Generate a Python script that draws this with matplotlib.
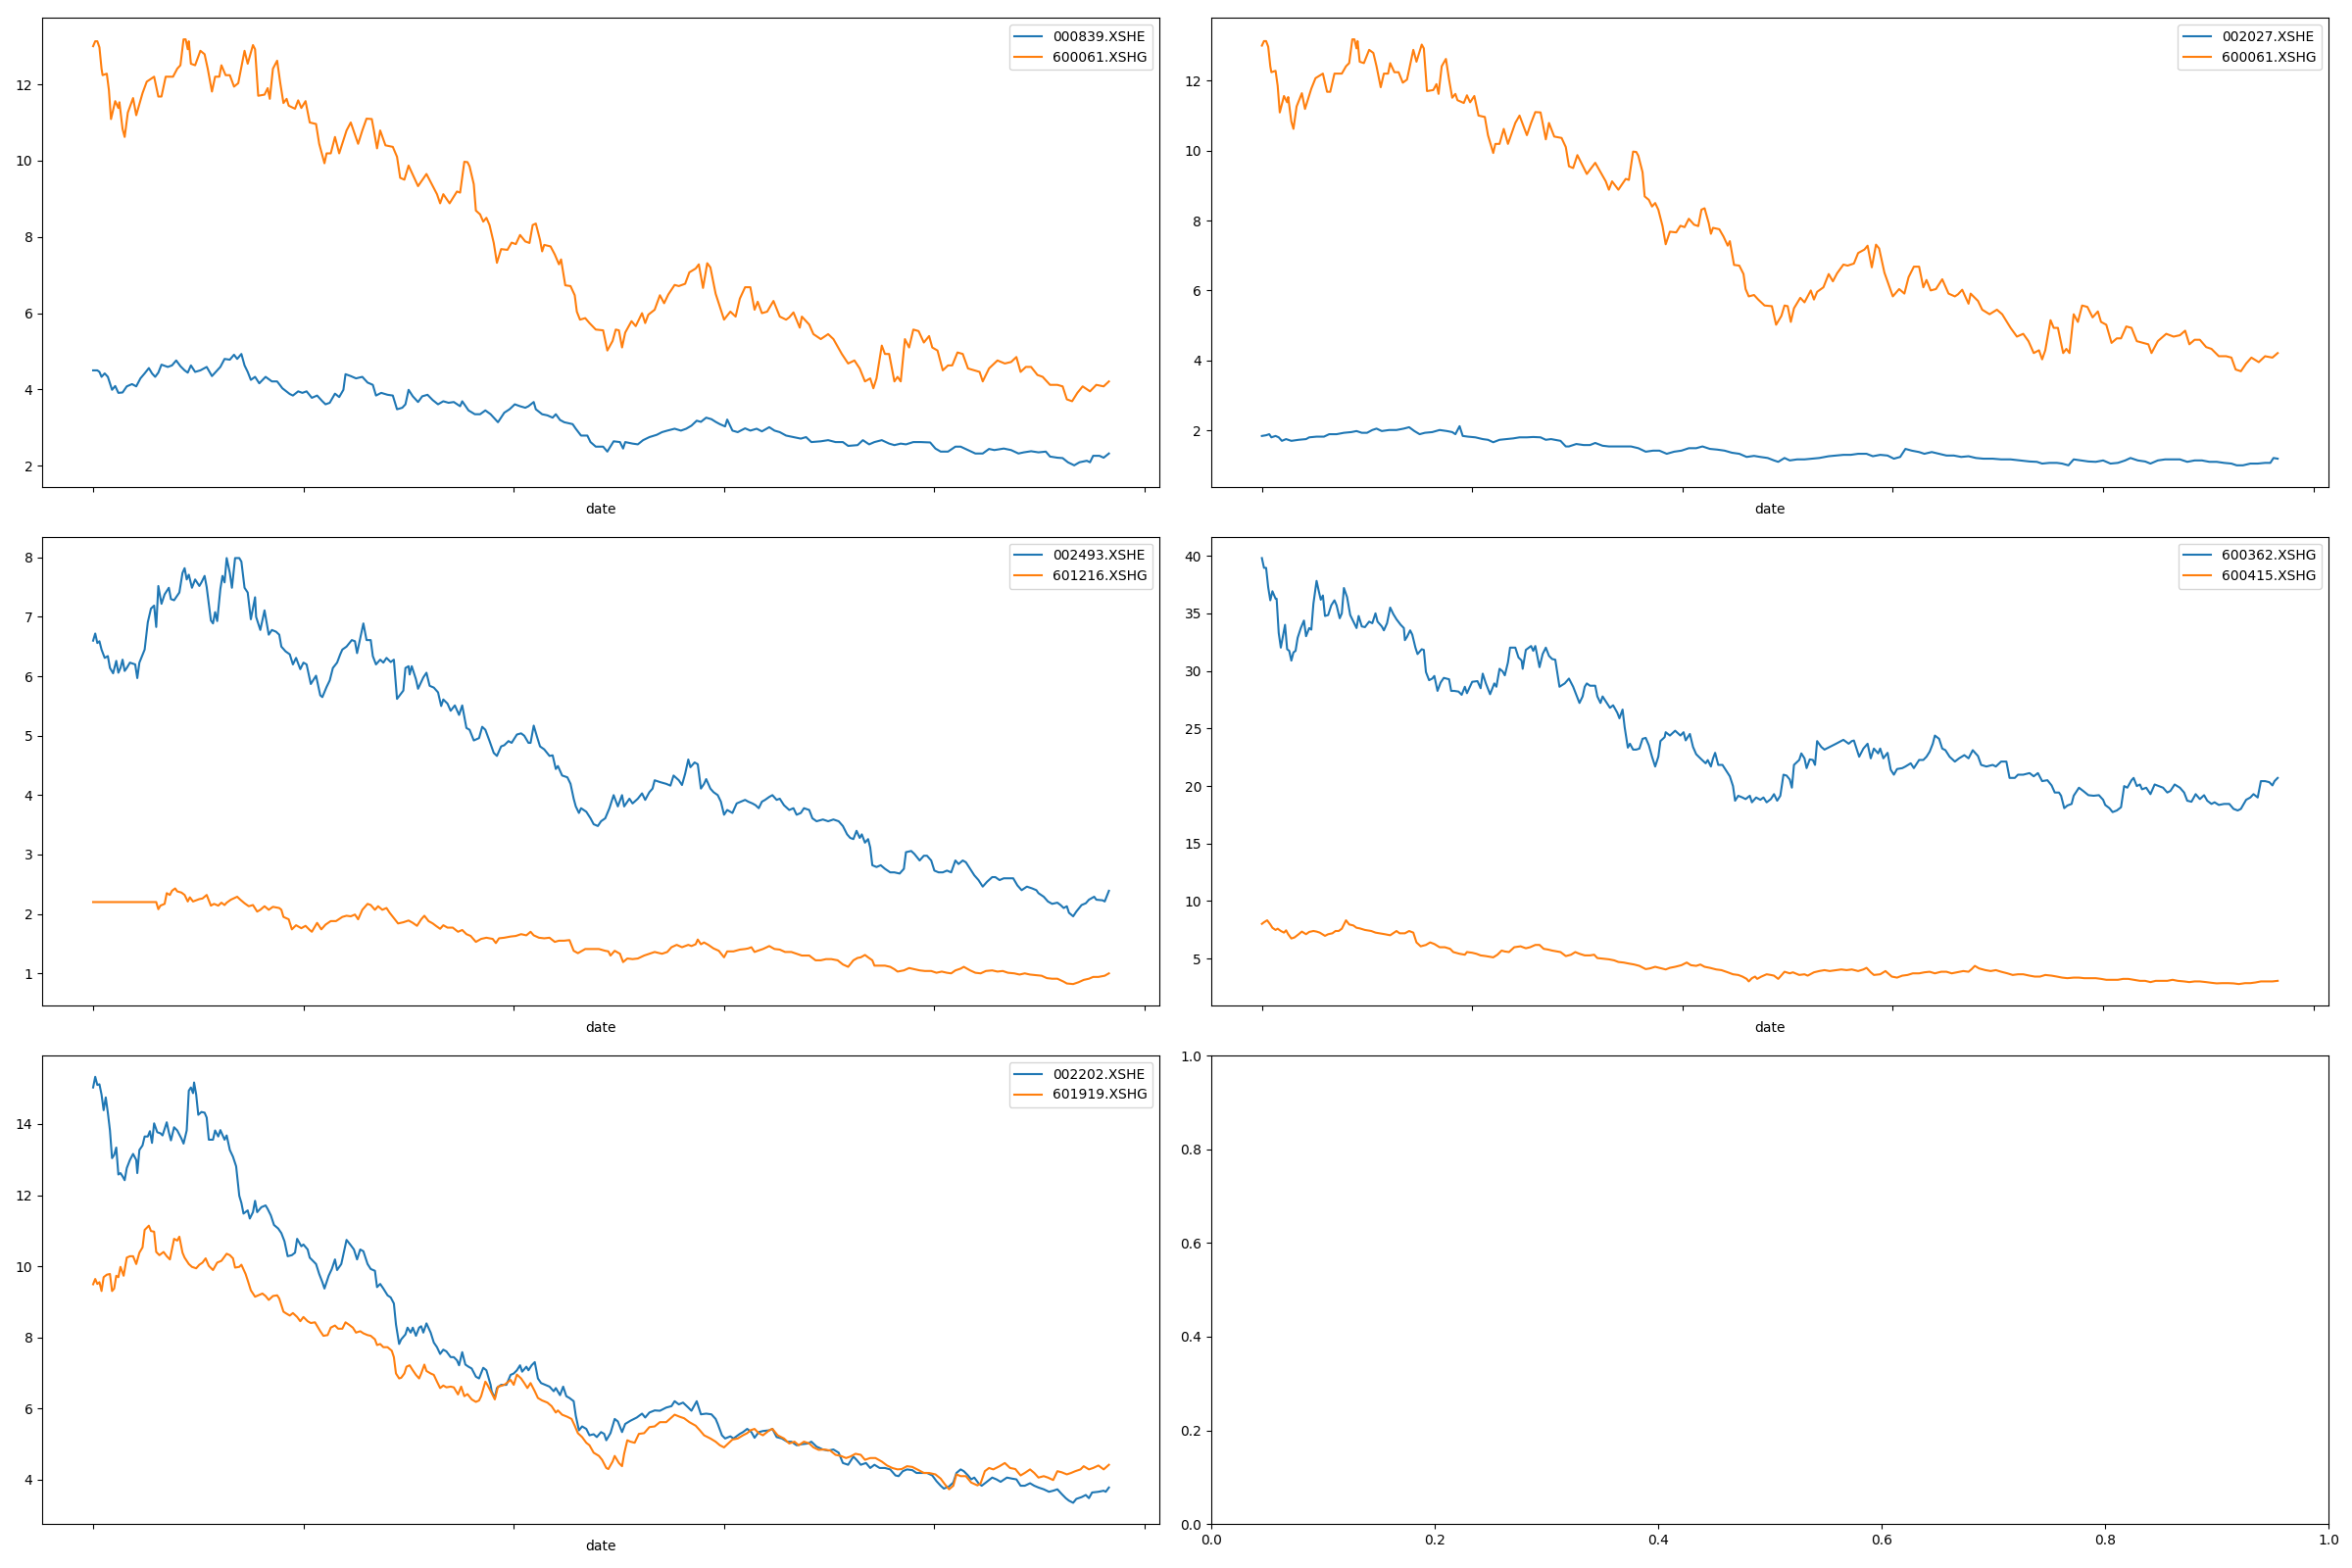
import matplotlib
matplotlib.use("Agg")
import matplotlib.pyplot as plt

# closing prices as (trading-day index, price)
p_600061 = [
    (0, 13.0), (2, 13.13), (4, 13.13), (6, 12.97), (8, 12.41), (9, 12.24), (13, 12.28), (15, 11.85),
    (17, 11.09), (21, 11.56), (24, 11.38), (25, 11.53), (28, 10.83), (30, 10.62), (33, 11.26), (38, 11.64),
    (41, 11.19), (47, 11.77), (51, 12.07), (58, 12.2), (62, 11.68), (65, 11.68), (69, 12.2), (76, 12.2),
    (80, 12.41), (83, 12.5), (86, 13.18), (88, 13.18), (90, 12.92), (91, 13.13), (93, 12.54), (97, 12.5),
    (102, 12.88), (106, 12.79), (109, 12.41), (113, 11.81), (116, 12.2), (120, 12.2), (122, 12.5), (126, 12.24),
    (130, 12.24), (134, 11.94), (138, 12.03), (144, 12.88), (147, 12.54), (152, 13.03), (154, 12.92), (157, 11.7),
    (163, 11.73), (166, 11.9), (168, 11.62), (171, 12.41), (175, 12.62), (178, 12.03), (181, 11.51), (184, 11.62),
    (186, 11.44), (192, 11.36), (195, 11.58), (198, 11.38), (202, 11.56), (206, 11.0), (212, 10.96), (215, 10.44),
    (220, 9.93), (222, 10.19), (226, 10.19), (230, 10.62), (234, 10.19), (241, 10.79), (245, 11.0), (252, 10.44),
    (256, 10.79), (260, 11.1), (265, 11.09), (267, 10.79), (270, 10.32), (273, 10.79), (278, 10.4), (285, 10.36),
    (289, 10.1), (292, 9.55), (296, 9.5), (300, 9.87), (304, 9.63), (309, 9.33), (317, 9.65), (323, 9.33),
    (327, 9.12), (330, 8.88), (333, 9.12), (339, 8.88), (346, 9.19), (349, 9.16), (353, 9.97), (356, 9.96),
    (358, 9.85), (362, 9.38), (364, 8.69), (368, 8.59), (371, 8.4), (374, 8.5), (377, 8.31), (381, 7.84),
    (384, 7.32), (388, 7.68), (394, 7.66), (398, 7.85), (402, 7.81), (406, 8.05), (411, 7.88), (415, 7.84),
    (418, 8.31), (421, 8.35), (425, 7.92), (427, 7.62), (429, 7.79), (435, 7.75), (439, 7.54), (443, 7.28),
    (445, 7.41), (449, 6.73), (454, 6.71), (458, 6.47), (460, 6.04), (463, 5.83), (468, 5.87), (472, 5.74),
    (478, 5.57), (485, 5.55), (489, 5.02), (494, 5.27), (497, 5.57), (500, 5.55), (503, 5.1), (506, 5.49),
    (512, 5.79), (516, 5.66), (522, 6.0), (525, 5.74), (528, 5.96), (534, 6.09), (539, 6.47), (543, 6.26),
    (547, 6.49), (553, 6.74), (557, 6.71), (563, 6.77), (567, 7.07), (573, 7.17), (576, 7.28), (580, 6.66),
    (584, 7.31), (587, 7.2), (592, 6.51), (600, 5.83), (606, 6.04), (611, 5.91), (615, 6.38), (620, 6.68),
    (625, 6.68), (629, 6.09), (632, 6.3), (636, 6.0), (641, 6.04), (647, 6.32), (653, 5.91), (659, 5.83),
    (662, 5.89), (666, 6.02), (672, 5.62), (674, 5.91), (681, 5.7), (685, 5.45), (692, 5.32), (699, 5.45),
    (704, 5.32), (712, 4.93), (718, 4.68), (724, 4.76), (729, 4.55), (734, 4.21), (739, 4.29), (742, 4.03),
    (745, 4.29), (750, 5.15), (753, 4.93), (757, 4.93), (762, 4.21), (765, 4.33), (768, 4.21), (772, 5.32),
    (776, 5.1), (780, 5.57), (785, 5.53), (790, 5.23), (795, 5.4), (798, 5.1), (803, 5.02), (808, 4.5),
    (813, 4.63), (817, 4.63), (822, 4.97), (827, 4.93), (832, 4.55), (838, 4.5), (843, 4.46), (846, 4.21),
    (852, 4.55), (857, 4.68), (860, 4.76), (867, 4.68), (873, 4.72), (878, 4.85), (882, 4.46), (887, 4.59),
    (892, 4.59), (898, 4.38), (903, 4.33), (910, 4.12), (917, 4.12), (922, 4.08), (926, 3.74), (931, 3.69),
    (936, 3.91), (941, 4.08), (948, 3.95), (954, 4.12), (961, 4.08), (966, 4.21),
]

p_000839 = [
    (0, 4.5), (4, 4.5), (6, 4.46), (8, 4.33), (11, 4.42), (14, 4.33), (18, 3.99), (21, 4.09),
    (24, 3.91), (28, 3.92), (32, 4.08), (37, 4.14), (41, 4.08), (45, 4.29), (49, 4.42), (53, 4.56),
    (56, 4.42), (59, 4.33), (62, 4.44), (65, 4.65), (71, 4.59), (75, 4.63), (79, 4.76), (83, 4.61),
    (87, 4.5), (90, 4.44), (93, 4.63), (97, 4.46), (102, 4.5), (108, 4.59), (113, 4.35), (118, 4.5),
    (121, 4.59), (125, 4.8), (130, 4.78), (134, 4.91), (137, 4.8), (141, 4.93), (144, 4.63), (147, 4.46),
    (150, 4.25), (154, 4.33), (158, 4.16), (164, 4.33), (170, 4.21), (175, 4.21), (180, 4.03), (187, 3.88),
    (190, 3.84), (195, 3.95), (199, 3.91), (203, 3.95), (208, 3.78), (213, 3.84), (218, 3.69), (221, 3.61),
    (225, 3.65), (230, 3.89), (234, 3.8), (238, 3.99), (240, 4.4), (245, 4.35), (250, 4.29), (256, 4.33),
    (261, 4.18), (266, 4.12), (269, 3.84), (274, 3.91), (280, 3.86), (285, 3.84), (289, 3.48), (294, 3.52),
    (297, 3.61), (300, 3.99), (304, 3.82), (309, 3.67), (313, 3.82), (318, 3.86), (323, 3.72), (328, 3.61),
    (333, 3.69), (338, 3.65), (343, 3.67), (349, 3.56), (351, 3.69), (357, 3.45), (363, 3.35), (368, 3.35),
    (373, 3.45), (378, 3.35), (385, 3.14), (391, 3.39), (396, 3.48), (401, 3.61), (406, 3.56), (411, 3.52),
    (414, 3.56), (419, 3.67), (421, 3.48), (427, 3.35), (432, 3.32), (437, 3.26), (440, 3.35), (444, 3.2),
    (448, 3.14), (456, 3.09), (459, 2.97), (464, 2.79), (470, 2.79), (473, 2.62), (478, 2.5), (485, 2.5),
    (489, 2.37), (495, 2.64), (501, 2.62), (504, 2.45), (506, 2.62), (513, 2.58), (518, 2.56), (523, 2.67),
    (529, 2.75), (536, 2.81), (541, 2.88), (546, 2.92), (553, 2.97), (559, 2.92), (564, 2.97), (569, 3.05),
    (574, 3.18), (578, 3.15), (583, 3.26), (588, 3.22), (592, 3.15), (596, 3.09), (601, 3.03), (603, 3.21),
    (608, 2.92), (613, 2.88), (620, 2.98), (625, 2.92), (631, 2.97), (636, 2.9), (643, 3.01), (648, 2.92),
    (653, 2.88), (659, 2.79), (666, 2.75), (673, 2.71), (678, 2.75), (683, 2.62), (692, 2.64), (699, 2.67),
    (706, 2.62), (713, 2.62), (718, 2.52), (727, 2.54), (732, 2.67), (738, 2.56), (743, 2.62), (750, 2.67),
    (757, 2.58), (762, 2.54), (768, 2.58), (773, 2.56), (780, 2.62), (787, 2.62), (796, 2.61), (801, 2.45),
    (806, 2.37), (813, 2.37), (820, 2.5), (825, 2.5), (832, 2.41), (839, 2.32), (846, 2.32), (852, 2.44),
    (857, 2.41), (866, 2.45), (873, 2.41), (880, 2.32), (885, 2.35), (892, 2.38), (899, 2.35), (906, 2.37),
    (910, 2.24), (917, 2.21), (922, 2.2), (927, 2.09), (933, 2.01), (938, 2.09), (945, 2.13), (948, 2.09),
    (951, 2.26), (957, 2.26), (961, 2.21), (966, 2.32),
]

p_002027 = [
    (0, 1.84), (4, 1.86), (7, 1.89), (9, 1.8), (13, 1.84), (16, 1.8), (19, 1.7), (23, 1.75),
    (28, 1.7), (35, 1.73), (42, 1.75), (45, 1.8), (52, 1.82), (59, 1.82), (64, 1.89), (71, 1.89),
    (78, 1.93), (85, 1.95), (90, 1.98), (95, 1.93), (100, 1.93), (105, 2.01), (109, 2.05), (114, 1.98),
    (121, 2.01), (128, 2.01), (135, 2.05), (140, 2.09), (145, 1.98), (150, 1.89), (155, 1.93), (162, 1.95),
    (169, 2.01), (176, 1.98), (181, 1.95), (184, 1.89), (188, 2.12), (191, 1.84), (196, 1.82), (203, 1.8),
    (210, 1.75), (215, 1.73), (220, 1.66), (226, 1.73), (233, 1.75), (239, 1.77), (245, 1.8), (252, 1.8),
    (258, 1.81), (265, 1.8), (270, 1.73), (275, 1.75), (284, 1.7), (289, 1.54), (292, 1.54), (299, 1.61),
    (306, 1.58), (312, 1.58), (317, 1.64), (324, 1.56), (330, 1.54), (337, 1.54), (344, 1.54), (351, 1.54),
    (358, 1.49), (365, 1.39), (372, 1.42), (378, 1.42), (385, 1.33), (392, 1.39), (399, 1.42), (406, 1.49),
    (413, 1.49), (419, 1.54), (426, 1.47), (433, 1.45), (440, 1.42), (447, 1.36), (454, 1.33), (461, 1.24),
    (468, 1.27), (474, 1.24), (481, 1.21), (487, 1.14), (491, 1.1), (497, 1.21), (502, 1.14), (509, 1.17),
    (516, 1.17), (523, 1.19), (530, 1.21), (539, 1.26), (546, 1.28), (553, 1.3), (560, 1.3), (567, 1.33),
    (575, 1.33), (581, 1.26), (588, 1.3), (595, 1.28), (601, 1.19), (607, 1.24), (612, 1.47), (618, 1.42),
    (625, 1.38), (630, 1.33), (637, 1.38), (644, 1.33), (651, 1.28), (658, 1.28), (665, 1.24), (672, 1.26),
    (679, 1.21), (686, 1.19), (695, 1.19), (703, 1.17), (712, 1.17), (721, 1.14), (730, 1.11), (737, 1.1),
    (742, 1.05), (749, 1.07), (756, 1.07), (761, 1.05), (767, 1.0), (772, 1.17), (779, 1.14), (786, 1.11),
    (793, 1.1), (800, 1.14), (807, 1.05), (814, 1.07), (821, 1.14), (826, 1.21), (833, 1.14), (840, 1.11),
    (845, 1.05), (852, 1.14), (859, 1.17), (866, 1.17), (873, 1.17), (880, 1.1), (887, 1.14), (894, 1.14),
    (901, 1.1), (908, 1.1), (915, 1.07), (922, 1.05), (927, 1.0), (933, 1.0), (940, 1.05), (947, 1.05),
    (954, 1.07), (959, 1.07), (962, 1.21), (966, 1.19),
]

p_002493 = [
    (0, 6.6), (2, 6.72), (4, 6.56), (6, 6.59), (8, 6.45), (11, 6.31), (14, 6.34), (16, 6.14),
    (19, 6.05), (22, 6.26), (24, 6.06), (26, 6.14), (28, 6.28), (30, 6.09), (32, 6.14), (35, 6.23),
    (40, 6.2), (42, 5.97), (44, 6.23), (49, 6.45), (52, 6.91), (55, 7.14), (58, 7.19), (60, 6.83),
    (62, 7.52), (65, 7.22), (68, 7.38), (72, 7.49), (74, 7.3), (77, 7.28), (82, 7.41), (85, 7.74),
    (87, 7.82), (89, 7.63), (91, 7.71), (94, 7.49), (97, 7.63), (101, 7.52), (103, 7.58), (106, 7.69),
    (108, 7.5), (112, 6.94), (114, 6.89), (116, 7.08), (118, 6.93), (121, 7.47), (123, 7.69), (125, 7.58),
    (127, 7.99), (130, 7.74), (132, 7.49), (135, 7.99), (139, 7.99), (141, 7.93), (144, 7.49), (147, 7.41),
    (150, 6.96), (154, 7.33), (155, 7.0), (159, 6.78), (163, 7.11), (167, 6.7), (170, 6.78), (174, 6.75),
    (177, 6.7), (179, 6.5), (183, 6.42), (187, 6.37), (190, 6.2), (193, 6.31), (197, 6.12), (200, 6.23),
    (203, 6.2), (207, 5.87), (212, 6.01), (216, 5.68), (218, 5.65), (222, 5.82), (225, 5.93), (228, 6.14),
    (232, 6.23), (235, 6.37), (237, 6.45), (241, 6.5), (246, 6.61), (249, 6.59), (251, 6.39), (254, 6.64),
    (257, 6.89), (260, 6.61), (264, 6.61), (266, 6.34), (269, 6.2), (273, 6.28), (276, 6.23), (279, 6.31),
    (283, 6.24), (286, 6.28), (289, 5.62), (295, 5.76), (297, 6.14), (300, 6.17), (301, 6.03), (303, 6.17),
    (307, 5.95), (309, 5.79), (314, 5.98), (317, 6.06), (320, 5.84), (324, 5.81), (328, 5.73), (331, 5.5),
    (333, 5.61), (337, 5.54), (340, 5.42), (344, 5.51), (348, 5.35), (351, 5.51), (355, 5.13), (358, 5.1),
    (362, 4.92), (367, 4.96), (370, 5.15), (373, 5.1), (377, 4.91), (381, 4.71), (384, 4.66), (388, 4.82),
    (391, 4.84), (395, 4.91), (398, 4.88), (403, 5.02), (407, 5.04), (410, 5.0), (414, 4.88), (416, 4.88),
    (419, 5.17), (422, 4.99), (425, 4.82), (429, 4.77), (434, 4.66), (437, 4.67), (440, 4.44), (442, 4.49),
    (446, 4.33), (451, 4.3), (454, 4.19), (457, 3.94), (459, 3.81), (462, 3.7), (464, 3.78), (469, 3.72),
    (473, 3.61), (476, 3.51), (480, 3.48), (483, 3.56), (487, 3.61), (491, 3.78), (495, 4.0), (499, 3.81),
    (503, 4.0), (505, 3.81), (510, 3.94), (513, 3.86), (518, 3.94), (522, 4.03), (525, 3.92), (529, 4.05),
    (532, 4.11), (534, 4.25), (539, 4.22), (545, 4.19), (549, 4.16), (552, 4.33), (557, 4.25), (560, 4.17),
    (563, 4.36), (566, 4.6), (568, 4.47), (572, 4.55), (575, 4.52), (578, 4.11), (581, 4.19), (583, 4.27),
    (587, 4.11), (590, 4.05), (594, 4.0), (597, 3.89), (600, 3.67), (603, 3.75), (608, 3.7), (612, 3.86),
    (616, 3.89), (620, 3.92), (623, 3.89), (627, 3.86), (630, 3.83), (633, 3.78), (636, 3.89), (639, 3.92),
    (643, 3.97), (646, 4.0), (650, 3.92), (653, 3.94), (657, 3.83), (662, 3.75), (666, 3.78), (669, 3.67),
    (673, 3.7), (676, 3.78), (681, 3.75), (684, 3.61), (688, 3.56), (694, 3.59), (699, 3.56), (704, 3.59),
    (709, 3.56), (713, 3.48), (717, 3.34), (720, 3.28), (723, 3.26), (726, 3.4), (729, 3.28), (731, 3.34),
    (734, 3.2), (737, 3.26), (739, 3.12), (741, 2.82), (745, 2.79), (749, 2.82), (753, 2.76), (758, 2.7),
    (762, 2.7), (767, 2.68), (771, 2.76), (773, 3.04), (778, 3.06), (781, 3.01), (786, 2.9), (790, 2.98),
    (793, 2.98), (797, 2.9), (800, 2.73), (804, 2.7), (808, 2.7), (812, 2.73), (816, 2.7), (820, 2.9),
    (823, 2.84), (827, 2.9), (830, 2.87), (834, 2.76), (838, 2.65), (842, 2.57), (846, 2.46), (850, 2.54),
    (855, 2.62), (858, 2.62), (862, 2.57), (866, 2.6), (870, 2.6), (875, 2.6), (879, 2.48), (883, 2.4),
    (888, 2.46), (893, 2.43), (897, 2.4), (899, 2.35), (904, 2.29), (908, 2.21), (912, 2.17), (917, 2.19),
    (920, 2.15), (923, 2.1), (926, 2.13), (928, 2.02), (932, 1.96), (935, 2.04), (940, 2.15), (944, 2.18),
    (947, 2.24), (952, 2.29), (954, 2.24), (960, 2.23), (962, 2.21), (966, 2.39),
]

p_601216 = [
    (0, 2.2), (60, 2.2), (62, 2.08), (64, 2.14), (68, 2.17), (70, 2.35), (73, 2.32), (75, 2.39),
    (78, 2.43), (80, 2.38), (84, 2.36), (87, 2.32), (90, 2.21), (92, 2.28), (95, 2.21), (101, 2.25),
    (104, 2.26), (108, 2.32), (112, 2.14), (115, 2.17), (119, 2.14), (122, 2.19), (125, 2.15), (127, 2.19),
    (131, 2.24), (137, 2.29), (140, 2.24), (144, 2.18), (148, 2.13), (152, 2.15), (156, 2.04), (159, 2.07),
    (163, 2.13), (167, 2.07), (171, 2.12), (177, 2.1), (179, 2.07), (181, 1.95), (186, 1.91), (189, 1.74),
    (193, 1.81), (198, 1.76), (202, 1.8), (206, 1.73), (208, 1.7), (213, 1.85), (217, 1.74), (221, 1.82),
    (226, 1.88), (231, 1.88), (237, 1.95), (241, 1.97), (245, 1.96), (249, 1.99), (252, 1.91), (256, 2.07),
    (261, 2.17), (264, 2.15), (268, 2.07), (271, 2.13), (275, 2.07), (279, 2.1), (282, 2.02), (286, 1.93),
    (290, 1.84), (295, 1.86), (300, 1.89), (304, 1.85), (308, 1.8), (312, 1.91), (315, 1.97), (319, 1.88),
    (323, 1.84), (326, 1.8), (330, 1.75), (333, 1.81), (337, 1.77), (342, 1.77), (347, 1.7), (351, 1.73),
    (355, 1.66), (359, 1.63), (364, 1.53), (369, 1.58), (374, 1.6), (380, 1.58), (383, 1.51), (386, 1.59),
    (391, 1.6), (397, 1.62), (402, 1.63), (407, 1.66), (412, 1.64), (416, 1.7), (419, 1.64), (424, 1.6),
    (429, 1.59), (434, 1.6), (439, 1.53), (443, 1.55), (448, 1.55), (453, 1.56), (457, 1.38), (461, 1.34),
    (464, 1.37), (468, 1.41), (474, 1.41), (481, 1.41), (487, 1.38), (490, 1.37), (492, 1.3), (496, 1.38),
    (501, 1.33), (504, 1.19), (508, 1.25), (513, 1.24), (518, 1.25), (524, 1.3), (529, 1.33), (534, 1.36),
    (541, 1.33), (546, 1.36), (550, 1.44), (555, 1.48), (560, 1.44), (566, 1.48), (569, 1.46), (573, 1.49),
    (575, 1.57), (578, 1.49), (581, 1.52), (585, 1.48), (590, 1.42), (595, 1.38), (600, 1.27), (603, 1.37),
    (609, 1.37), (615, 1.4), (620, 1.41), (623, 1.42), (626, 1.44), (629, 1.36), (632, 1.38), (637, 1.41),
    (643, 1.46), (648, 1.41), (653, 1.4), (658, 1.36), (664, 1.36), (669, 1.33), (674, 1.3), (681, 1.3),
    (687, 1.22), (692, 1.22), (697, 1.24), (702, 1.24), (708, 1.22), (713, 1.15), (718, 1.11), (723, 1.22),
    (727, 1.26), (730, 1.27), (734, 1.31), (737, 1.27), (741, 1.22), (743, 1.13), (748, 1.13), (753, 1.13),
    (758, 1.11), (762, 1.07), (765, 1.03), (771, 1.05), (776, 1.09), (781, 1.07), (786, 1.05), (791, 1.04),
    (797, 1.04), (802, 1.01), (807, 1.03), (812, 1.01), (816, 1.0), (820, 1.05), (825, 1.08), (828, 1.11),
    (834, 1.05), (839, 1.01), (844, 1.0), (849, 1.04), (855, 1.05), (860, 1.03), (865, 1.04), (870, 1.01),
    (876, 1.0), (881, 0.98), (886, 1.0), (891, 0.98), (897, 0.97), (902, 0.96), (907, 0.92), (912, 0.91),
    (917, 0.91), (923, 0.86), (926, 0.83), (932, 0.82), (937, 0.85), (942, 0.89), (947, 0.91), (951, 0.94),
    (956, 0.94), (962, 0.96), (966, 1.0),
]

p_600362 = [
    (0, 39.8), (2, 38.95), (4, 38.95), (6, 37.26), (8, 36.13), (10, 36.92), (13, 36.27), (14, 36.27),
    (16, 33.29), (18, 32.02), (20, 33.01), (22, 34.0), (24, 31.88), (26, 31.74), (28, 30.89), (30, 31.6),
    (32, 31.74), (34, 32.87), (37, 33.72), (40, 34.37), (42, 33.01), (45, 33.72), (47, 33.58), (49, 35.84),
    (52, 37.82), (54, 36.97), (56, 36.18), (58, 36.55), (60, 34.77), (63, 34.85), (66, 35.7), (69, 36.13),
    (71, 35.7), (74, 34.57), (76, 35.0), (78, 37.2), (81, 36.41), (84, 34.85), (87, 34.28), (90, 33.72),
    (92, 34.77), (95, 33.86), (98, 33.8), (102, 34.28), (105, 34.14), (108, 35.0), (110, 34.28), (114, 33.86),
    (116, 33.52), (119, 34.14), (122, 35.5), (125, 34.93), (128, 34.48), (132, 34.0), (135, 33.72), (136, 32.67),
    (138, 32.95), (141, 33.52), (143, 33.15), (146, 32.02), (148, 31.46), (152, 31.88), (154, 31.82), (156, 29.9),
    (159, 29.19), (162, 29.33), (164, 29.56), (167, 28.26), (170, 28.99), (173, 29.39), (178, 29.27), (180, 28.26),
    (183, 28.26), (187, 28.2), (190, 27.92), (193, 28.62), (195, 28.06), (200, 29.05), (205, 29.11), (208, 28.49),
    (210, 29.76), (213, 28.91), (217, 27.97), (221, 28.91), (223, 28.62), (226, 30.18), (229, 29.95), (231, 29.61),
    (234, 30.74), (236, 32.02), (241, 32.02), (244, 31.17), (247, 30.89), (248, 30.18), (251, 31.82), (256, 32.16),
    (258, 31.74), (260, 32.16), (264, 30.32), (267, 31.46), (270, 32.02), (273, 31.31), (276, 31.03), (279, 30.97),
    (283, 28.62), (288, 28.91), (292, 29.33), (296, 28.62), (299, 27.92), (302, 27.21), (305, 27.78), (307, 28.62),
    (309, 28.91), (312, 28.71), (317, 28.71), (319, 27.78), (322, 27.21), (324, 27.78), (328, 27.21), (331, 26.79),
    (334, 27.01), (338, 26.36), (340, 25.88), (343, 26.64), (345, 25.09), (348, 23.33), (350, 23.67), (353, 23.16),
    (356, 23.16), (359, 23.25), (362, 24.1), (365, 24.18), (368, 23.53), (371, 22.54), (374, 21.69), (377, 22.54),
    (379, 23.9), (383, 24.24), (384, 24.67), (388, 24.38), (393, 24.8), (398, 24.38), (401, 24.67), (403, 23.96),
    (407, 24.52), (410, 23.39), (413, 22.76), (418, 22.31), (422, 21.97), (424, 22.25), (427, 21.69), (429, 22.39),
    (431, 22.88), (434, 21.83), (438, 21.83), (442, 21.27), (445, 20.84), (448, 19.99), (450, 18.72), (453, 19.15),
    (457, 19.0), (460, 18.86), (464, 19.15), (466, 18.58), (470, 19.0), (474, 18.8), (477, 19.0), (480, 18.58),
    (484, 18.86), (487, 19.29), (490, 18.72), (493, 19.15), (496, 20.98), (499, 20.9), (502, 20.56), (504, 19.85),
    (506, 21.83), (511, 22.26), (513, 22.83), (516, 22.4), (518, 21.55), (521, 22.31), (524, 22.26), (526, 21.83),
    (528, 23.9), (532, 23.39), (535, 23.16), (540, 23.39), (546, 23.67), (553, 24.01), (558, 23.67), (561, 23.9),
    (563, 23.95), (568, 22.54), (572, 23.25), (576, 23.67), (579, 22.4), (582, 23.25), (586, 22.83), (588, 23.25),
    (591, 22.4), (595, 22.88), (598, 21.41), (601, 20.98), (604, 21.47), (609, 21.55), (612, 21.69), (617, 21.97),
    (620, 21.55), (625, 22.26), (629, 22.26), (632, 22.54), (635, 22.97), (638, 23.67), (640, 24.38), (644, 24.1),
    (647, 23.25), (650, 23.11), (654, 22.54), (659, 22.12), (663, 22.4), (668, 22.68), (672, 22.4), (676, 23.11),
    (681, 22.6), (684, 21.83), (689, 21.69), (695, 21.83), (698, 21.69), (703, 22.12), (708, 22.12), (711, 20.7),
    (716, 20.7), (719, 20.98), (724, 20.98), (730, 21.12), (734, 20.84), (738, 21.12), (742, 20.42), (747, 20.5),
    (751, 20.05), (754, 19.43), (758, 19.43), (760, 19.15), (763, 18.07), (766, 18.3), (770, 18.44), (772, 19.15),
    (777, 19.85), (781, 19.57), (786, 19.2), (791, 19.15), (796, 19.2), (800, 18.8), (802, 18.35), (806, 18.07),
    (809, 17.73), (813, 17.87), (817, 18.15), (820, 19.99), (823, 19.85), (827, 20.5), (829, 20.7), (832, 19.99),
    (835, 20.13), (837, 19.71), (841, 19.85), (845, 19.29), (849, 20.13), (853, 19.99), (857, 19.85), (861, 19.43),
    (864, 19.57), (868, 20.13), (873, 19.85), (877, 19.43), (880, 18.72), (884, 18.63), (888, 19.29), (892, 18.86),
    (896, 19.2), (899, 18.72), (903, 18.44), (906, 18.58), (910, 18.35), (915, 18.44), (920, 18.44), (924, 18.01),
    (928, 17.87), (931, 18.01), (936, 18.8), (940, 19.0), (943, 19.29), (947, 19.0), (950, 20.42), (954, 20.42),
    (958, 20.33), (961, 20.05), (963, 20.42), (966, 20.7),
]

p_600415 = [
    (0, 8.02), (2, 8.16), (5, 8.33), (8, 7.97), (10, 7.68), (13, 7.49), (15, 7.6), (18, 7.4),
    (21, 7.26), (23, 7.46), (25, 7.12), (28, 6.75), (31, 6.84), (35, 7.12), (38, 7.35), (42, 7.12),
    (45, 7.32), (49, 7.4), (52, 7.35), (55, 7.26), (60, 6.98), (63, 7.12), (67, 7.2), (70, 7.4),
    (73, 7.4), (76, 7.6), (80, 8.33), (83, 7.97), (87, 7.88), (90, 7.68), (93, 7.63), (98, 7.49),
    (104, 7.4), (108, 7.26), (112, 7.2), (117, 7.12), (122, 7.03), (128, 7.4), (131, 7.2), (136, 7.2),
    (140, 7.4), (144, 7.26), (147, 6.41), (151, 6.07), (156, 6.19), (160, 6.41), (164, 6.27), (169, 5.99),
    (174, 5.99), (179, 5.85), (182, 5.57), (188, 5.42), (193, 5.34), (195, 5.57), (200, 5.51), (204, 5.42),
    (208, 5.28), (213, 5.22), (220, 5.11), (224, 5.34), (228, 5.7), (231, 5.62), (235, 5.57), (240, 5.99),
    (246, 6.07), (251, 5.9), (255, 5.99), (260, 6.19), (264, 6.19), (268, 5.85), (272, 5.79), (276, 5.7),
    (281, 5.62), (284, 5.57), (289, 5.22), (294, 5.34), (298, 5.57), (302, 5.42), (307, 5.28), (312, 5.28),
    (316, 5.34), (319, 5.05), (324, 5.0), (330, 4.94), (335, 4.85), (339, 4.71), (344, 4.66), (349, 4.57),
    (354, 4.49), (359, 4.37), (365, 4.09), (369, 4.15), (374, 4.29), (378, 4.2), (384, 4.06), (388, 4.2),
    (393, 4.29), (399, 4.43), (404, 4.66), (408, 4.43), (413, 4.37), (417, 4.49), (421, 4.29), (426, 4.2),
    (432, 4.06), (437, 4.0), (443, 3.81), (448, 3.64), (453, 3.58), (457, 3.44), (461, 3.24), (463, 3.02),
    (466, 3.3), (469, 3.44), (471, 3.24), (475, 3.44), (480, 3.64), (484, 3.58), (487, 3.52), (491, 3.24),
    (493, 3.44), (497, 3.86), (502, 3.72), (505, 3.81), (511, 3.58), (516, 3.64), (519, 3.52), (525, 3.81),
    (530, 3.92), (535, 4.0), (540, 3.92), (546, 4.0), (551, 4.06), (556, 4.0), (561, 4.06), (567, 3.92),
    (572, 4.06), (575, 4.2), (579, 3.81), (582, 3.58), (588, 3.64), (593, 3.92), (599, 3.44), (604, 3.35),
    (609, 3.52), (614, 3.58), (619, 3.72), (625, 3.72), (630, 3.81), (635, 3.86), (640, 3.72), (646, 3.86),
    (651, 3.86), (656, 3.72), (661, 3.81), (667, 3.92), (672, 3.86), (675, 4.09), (678, 4.37), (682, 4.15),
    (688, 4.0), (693, 3.92), (698, 4.0), (703, 3.86), (709, 3.72), (714, 3.58), (719, 3.64), (724, 3.64),
    (730, 3.52), (735, 3.44), (740, 3.44), (745, 3.58), (751, 3.52), (756, 3.44), (761, 3.35), (766, 3.3),
    (772, 3.35), (777, 3.35), (782, 3.3), (787, 3.3), (793, 3.3), (798, 3.24), (803, 3.16), (808, 3.16),
    (814, 3.16), (819, 3.24), (824, 3.24), (829, 3.16), (835, 3.07), (840, 3.07), (845, 2.96), (850, 3.07),
    (856, 3.07), (861, 3.07), (866, 3.16), (871, 3.07), (877, 3.02), (882, 2.96), (887, 3.02), (892, 3.02),
    (898, 2.96), (903, 2.9), (908, 2.85), (913, 2.87), (919, 2.87), (924, 2.85), (929, 2.79), (935, 2.87),
    (940, 2.87), (945, 2.93), (950, 3.02), (956, 3.02), (961, 3.02), (966, 3.07),
]

p_002202 = [
    (0, 15.03), (2, 15.33), (4, 15.1), (6, 15.12), (8, 14.83), (10, 14.39), (12, 14.75), (14, 14.32),
    (16, 13.82), (18, 13.04), (20, 13.13), (22, 13.34), (24, 12.58), (26, 12.62), (28, 12.53), (30, 12.42),
    (32, 12.76), (35, 12.99), (38, 13.16), (41, 12.99), (42, 12.62), (44, 13.27), (47, 13.4), (49, 13.65),
    (52, 13.65), (54, 13.8), (56, 13.47), (58, 14.02), (61, 13.77), (64, 13.74), (66, 13.68), (70, 14.05),
    (72, 13.77), (74, 13.54), (77, 13.91), (80, 13.82), (84, 13.59), (86, 13.45), (89, 13.82), (91, 14.94),
    (93, 15.03), (95, 14.87), (96, 15.17), (98, 14.83), (100, 14.26), (103, 14.34), (106, 14.32), (108, 14.18),
    (110, 13.56), (114, 13.56), (116, 13.82), (119, 13.65), (121, 13.83), (125, 13.56), (127, 13.68), (130, 13.27),
    (133, 13.08), (136, 12.81), (139, 11.98), (141, 11.78), (143, 11.48), (147, 11.57), (149, 11.34), (152, 11.52),
    (154, 11.84), (156, 11.52), (160, 11.66), (164, 11.71), (166, 11.61), (169, 11.43), (172, 11.16), (176, 11.06),
    (179, 10.93), (182, 10.7), (185, 10.28), (189, 10.31), (192, 10.38), (194, 10.77), (198, 10.56), (200, 10.61),
    (204, 10.47), (206, 10.24), (209, 10.15), (212, 10.06), (215, 9.78), (218, 9.55), (220, 9.37), (224, 9.73),
    (227, 9.92), (230, 10.19), (232, 9.89), (236, 10.06), (238, 10.33), (241, 10.74), (245, 10.59), (248, 10.47),
    (251, 10.19), (254, 10.47), (257, 10.42), (261, 10.06), (264, 9.92), (268, 9.87), (270, 9.41), (273, 9.5),
    (276, 9.37), (280, 9.18), (283, 9.12), (286, 8.95), (288, 8.36), (291, 7.81), (293, 7.94), (297, 8.08),
    (299, 8.27), (302, 8.13), (304, 8.27), (307, 8.04), (310, 8.27), (312, 8.31), (314, 8.13), (317, 8.39),
    (321, 8.13), (324, 7.85), (327, 7.72), (330, 7.53), (333, 7.65), (336, 7.6), (340, 7.44), (343, 7.44),
    (346, 7.35), (348, 7.21), (351, 7.58), (354, 7.23), (357, 7.17), (360, 7.12), (364, 6.89), (367, 6.84),
    (371, 7.14), (374, 7.07), (378, 6.66), (379, 6.48), (382, 6.29), (384, 6.57), (388, 6.66), (393, 6.66),
    (397, 6.94), (400, 6.98), (403, 7.07), (406, 7.21), (408, 7.03), (412, 7.17), (414, 7.07), (417, 7.21),
    (420, 7.3), (423, 6.84), (426, 6.71), (430, 6.66), (434, 6.61), (438, 6.48), (440, 6.57), (444, 6.37),
    (447, 6.61), (450, 6.34), (453, 6.29), (457, 6.2), (459, 5.79), (462, 5.38), (465, 5.49), (469, 5.42),
    (472, 5.24), (476, 5.27), (479, 5.19), (483, 5.33), (486, 5.28), (488, 5.1), (492, 5.3), (496, 5.7),
    (499, 5.63), (503, 5.33), (506, 5.56), (511, 5.65), (517, 5.74), (522, 5.85), (525, 5.74), (529, 5.88),
    (534, 5.94), (539, 5.93), (545, 6.02), (550, 6.06), (553, 6.2), (557, 6.11), (561, 6.16), (566, 6.02),
    (569, 5.93), (574, 6.2), (578, 5.83), (583, 5.85), (588, 5.83), (592, 5.7), (594, 5.56), (598, 5.24),
    (601, 5.15), (606, 5.21), (609, 5.15), (615, 5.28), (618, 5.33), (622, 5.42), (626, 5.33), (629, 5.17),
    (633, 5.33), (637, 5.36), (643, 5.38), (646, 5.42), (650, 5.19), (655, 5.15), (660, 5.06), (664, 5.06),
    (669, 4.96), (674, 4.99), (680, 5.01), (683, 5.06), (688, 4.92), (694, 4.84), (699, 4.81), (704, 4.84),
    (709, 4.75), (713, 4.46), (718, 4.41), (723, 4.64), (726, 4.55), (730, 4.41), (735, 4.46), (739, 4.32),
    (743, 4.41), (748, 4.32), (753, 4.32), (758, 4.28), (763, 4.11), (766, 4.09), (770, 4.23), (774, 4.28),
    (779, 4.26), (783, 4.18), (788, 4.18), (793, 4.18), (798, 4.11), (802, 3.95), (806, 3.82), (809, 3.74),
    (814, 3.8), (818, 3.91), (821, 4.18), (825, 4.28), (828, 4.23), (832, 4.11), (835, 4.0), (838, 4.05),
    (842, 3.89), (845, 3.82), (849, 3.91), (855, 4.05), (859, 4.0), (863, 3.93), (869, 4.05), (874, 4.02),
    (878, 4.0), (882, 3.82), (886, 3.82), (891, 3.89), (895, 3.82), (899, 3.77), (904, 3.72), (909, 3.65),
    (913, 3.68), (917, 3.72), (921, 3.59), (925, 3.47), (928, 3.4), (932, 3.34), (935, 3.45), (940, 3.5),
    (944, 3.56), (947, 3.47), (950, 3.63), (956, 3.65), (961, 3.68), (963, 3.65), (966, 3.77),
]

p_601919 = [
    (0, 9.49), (2, 9.64), (4, 9.5), (6, 9.55), (8, 9.3), (10, 9.69), (13, 9.76), (16, 9.78),
    (18, 9.3), (20, 9.37), (22, 9.73), (24, 9.69), (26, 9.98), (29, 9.73), (32, 10.24), (35, 10.28),
    (38, 10.28), (41, 10.06), (44, 10.38), (47, 10.53), (49, 11.02), (53, 11.14), (55, 10.99), (58, 10.97),
    (60, 10.4), (63, 10.31), (67, 10.4), (70, 10.28), (73, 10.19), (77, 10.77), (80, 10.72), (82, 10.83),
    (85, 10.38), (87, 10.24), (91, 10.06), (94, 9.98), (98, 9.94), (101, 10.04), (104, 10.1), (107, 10.22),
    (110, 10.01), (114, 9.89), (118, 10.1), (122, 10.15), (127, 10.35), (130, 10.31), (133, 10.22), (135, 9.96),
    (139, 9.98), (141, 10.04), (145, 9.78), (147, 9.6), (150, 9.32), (154, 9.14), (157, 9.18), (161, 9.23),
    (164, 9.16), (167, 9.05), (171, 9.16), (175, 9.18), (177, 9.09), (181, 8.72), (183, 8.68), (187, 8.61),
    (190, 8.68), (194, 8.57), (197, 8.45), (200, 8.57), (204, 8.45), (207, 8.4), (211, 8.42), (216, 8.17),
    (219, 8.04), (223, 8.06), (226, 8.27), (230, 8.33), (233, 8.24), (237, 8.24), (240, 8.42), (243, 8.36),
    (247, 8.27), (250, 8.13), (254, 8.17), (257, 8.11), (261, 8.06), (264, 8.04), (268, 7.94), (270, 7.78),
    (273, 7.81), (276, 7.72), (280, 7.72), (284, 7.62), (286, 7.44), (288, 6.98), (291, 6.84), (293, 6.86),
    (296, 6.98), (298, 7.17), (301, 7.21), (304, 7.07), (307, 6.94), (310, 6.84), (312, 6.98), (315, 7.23),
    (317, 7.05), (321, 6.98), (324, 6.94), (327, 6.75), (330, 6.57), (333, 6.64), (336, 6.59), (340, 6.61),
    (343, 6.59), (347, 6.39), (350, 6.61), (353, 6.34), (356, 6.4), (360, 6.25), (364, 6.18), (367, 6.22),
    (369, 6.34), (373, 6.75), (375, 6.66), (379, 6.43), (382, 6.25), (385, 6.61), (389, 6.64), (392, 6.68),
    (397, 6.8), (400, 6.66), (403, 6.95), (407, 6.84), (410, 6.71), (413, 6.57), (416, 6.71), (420, 6.48),
    (423, 6.29), (427, 6.22), (432, 6.16), (436, 6.06), (440, 5.88), (442, 5.94), (446, 5.82), (451, 5.76),
    (455, 5.7), (458, 5.51), (461, 5.3), (465, 5.19), (469, 5.03), (472, 4.96), (476, 4.75), (481, 4.66),
    (484, 4.55), (488, 4.32), (490, 4.29), (494, 4.5), (496, 4.66), (500, 4.46), (503, 4.37), (505, 4.72),
    (508, 5.1), (511, 5.06), (515, 5.03), (519, 5.28), (524, 5.3), (529, 5.47), (534, 5.49), (539, 5.61),
    (545, 5.61), (550, 5.74), (553, 5.82), (558, 5.76), (562, 5.72), (567, 5.61), (573, 5.51), (577, 5.38),
    (581, 5.24), (587, 5.15), (592, 5.06), (596, 4.96), (600, 4.9), (604, 5.01), (608, 5.12), (613, 5.15),
    (618, 5.24), (622, 5.3), (625, 5.38), (629, 5.42), (633, 5.3), (637, 5.24), (643, 5.38), (646, 5.42),
    (651, 5.24), (657, 5.15), (662, 5.01), (667, 5.06), (671, 4.96), (676, 5.06), (681, 5.01), (685, 4.9),
    (690, 4.83), (695, 4.84), (701, 4.81), (706, 4.69), (711, 4.66), (716, 4.6), (720, 4.64), (725, 4.72),
    (730, 4.69), (734, 4.55), (739, 4.6), (744, 4.6), (750, 4.5), (755, 4.39), (760, 4.32), (765, 4.28),
    (769, 4.29), (774, 4.37), (779, 4.35), (785, 4.26), (790, 4.18), (795, 4.18), (801, 4.14), (806, 4.02),
    (810, 3.86), (814, 3.72), (818, 3.82), (821, 4.14), (825, 4.09), (830, 4.09), (835, 3.91), (841, 3.83),
    (844, 3.89), (848, 4.23), (852, 4.32), (856, 4.28), (862, 4.37), (867, 4.46), (872, 4.32), (877, 4.29),
    (882, 4.11), (886, 4.18), (891, 4.28), (895, 4.18), (899, 4.05), (904, 4.09), (908, 4.05), (913, 3.98),
    (917, 4.23), (921, 4.2), (926, 4.14), (930, 4.18), (934, 4.23), (939, 4.28), (942, 4.37), (947, 4.28),
    (951, 4.32), (956, 4.39), (961, 4.28), (966, 4.41),
]

# (blue stock, orange stock) for each panel
pairs = [
    ("000839.XSHE", p_000839, "600061.XSHG", p_600061),
    ("002027.XSHE", p_002027, "600061.XSHG", p_600061),
    ("002493.XSHE", p_002493, "601216.XSHG", p_601216),
    ("600362.XSHG", p_600362, "600415.XSHG", p_600415),
    ("002202.XSHE", p_002202, "601919.XSHG", p_601919),
]
day_ticks = [0, 200, 400, 600, 800, 1000]

fig, axes = plt.subplots(3, 2, figsize=(24, 16), dpi=100)
fig.subplots_adjust(left=0.018, right=0.99, top=0.9885, bottom=0.028,
                    wspace=0.046, hspace=0.107)
axes = axes.flatten()

for ax, (name1, s1, name2, s2) in zip(axes, pairs):
    for name, s in [(name1, s1), (name2, s2)]:
        d, p = zip(*s)
        ax.plot(d, p, label=name)
    ax.set_xticks(day_ticks)
    ax.tick_params(axis="x", labelbottom=False)
    ax.set_xlabel("date", labelpad=8)
    ax.legend(loc="upper right")

plt.savefig("out.png")
